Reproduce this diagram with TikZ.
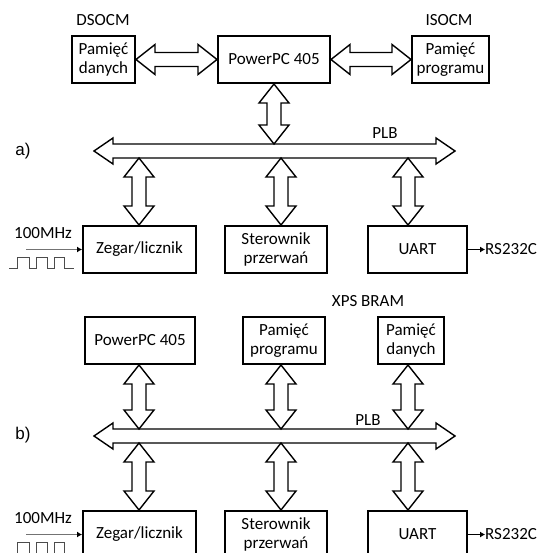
\documentclass[tikz,border=0pt]{standalone}
\usepackage{fontspec}
\setmainfont{Carlito}
\newfontfamily\arialfont{Liberation Sans}
\usetikzlibrary{calc,positioning,arrows.meta}

% podwojna strzalka blokowa (pozioma / pionowa), opcja: polowa szerokosci grotu
\newcommand\dwustrzalkaH[3][15]{%
  \draw[blokstrz] (#2) -- ++(19,-#1) -- ++(0,{#1-7}) -- ($(#3)+(-19,-7)$) -- ++(0,{7-#1}) -- (#3)
    -- ++(-19,#1) -- ++(0,{7-#1}) -- ($(#2)+(19,7)$) -- ++(0,{#1-7}) -- cycle;}
\newcommand\dwustrzalkaV[3][15]{%
  \draw[blokstrz] (#2) -- ++(#1,19) -- ++({7-#1},0) -- ($(#3)+(7,-19)$) -- ++({#1-7},0) -- (#3)
    -- ++(-#1,-19) -- ++({#1-7},0) -- ($(#2)+(-7,19)$) -- ++({7-#1},0) -- cycle;}
% przebieg zegarowy
\newcommand\przebieg[1]{%
  \draw[zegarek] (#1) -- ++(8,0) -- ++(0,-11) -- ++(12,0) -- ++(0,11) -- ++(7,0) -- ++(0,-11)
    -- ++(11,0) -- ++(0,11) -- ++(7,0) -- ++(0,-11) -- ++(10,0) -- ++(0,11) -- ++(10,0);}

\tikzset{
  blok/.style={draw, line width=2pt, align=center, minimum height=47pt, inner sep=0pt},
  blokstrz/.style={draw, line width=1.4pt, fill=white, line join=miter, miter limit=10},
  opis/.style={inner sep=0pt},
  zegarek/.style={draw=black!70, line width=1pt},
  wejscie/.style={draw=black!55, line width=1pt, -{Latex[length=5pt,width=6pt,color=black]}},
  wyjscie/.style={line width=0.8pt, -{Latex[length=5pt,width=6pt]}},
}

\begin{document}
\begin{tikzpicture}[x=1pt,y=-1pt,every node/.style={font=\fontsize{17}{19}\selectfont}]
\path[use as bounding box, clip] (0,0) rectangle (539,553);

% kolumny szyny
\coordinate (k1) at (139,0);
\coordinate (k2) at (281,0);
\coordinate (k3) at (408,0);

% ---- a) ----
\node[opis] (etA) at (23,151) {\arialfont a)};
\node[blok, minimum width=63pt] (danA) at (103.5,59.5) {Pamięć\\danych};
\node[blok, minimum width=112pt] (ppcA) at (274,59.5) {PowerPC 405};
\node[blok, minimum width=77pt] (progA) at (450.5,59.5) {Pamięć\\programu};
\node[opis] (dsocm) at (103,20) {DSOCM};
\node[opis] (isocm) at (449,20) {ISOCM};
\dwustrzalkaH{danA.east}{ppcA.west}
\dwustrzalkaH{ppcA.east}{progA.west}

\coordinate (plbAl) at (94,151);
\coordinate (plbAr) at (455,151);
\coordinate (plbAg) at (274,144);
\coordinate (plbAd) at (274,158);
\dwustrzalkaH[13]{plbAl}{plbAr}
\node[opis] (plbA) at (385,133) {PLB};
\dwustrzalkaV{ppcA.south}{ppcA.south |- plbAg}

\node[blok, minimum width=113pt] (zegA) at (139.5,249.5) {Zegar/licznik};
\node[blok, minimum width=102pt] (sterA) at (276,249.5) {Sterownik\\przerwań};
\node[blok, minimum width=99pt] (uartA) at (417.5,249.5) {UART};
\dwustrzalkaV{k1 |- plbAd}{k1 |- zegA.north}
\dwustrzalkaV{k2 |- plbAd}{k2 |- sterA.north}
\dwustrzalkaV{k3 |- plbAd}{k3 |- uartA.north}

\coordinate[left=56pt of zegA.west] (zegAwe);
\node[opis] (mhzA) at (43,233) {100MHz};
\draw[wejscie] (zegAwe) -- (zegA.west);
\przebieg{$(zegAwe)+(-17,19)$}
\node[opis, right=17pt of uartA] (rsA) {RS232C};
\draw[wyjscie] (uartA) -- (rsA);

% ---- b) ----
\node[opis] (etB) at (23,435) {\arialfont b)};
\node[blok, minimum width=110pt] (ppcB) at (140,340.5) {PowerPC 405};
\node[blok, minimum width=82pt] (progB) at (284,340.5) {Pamięć\\programu};
\node[blok, minimum width=66pt] (danB) at (411,340.5) {Pamięć\\danych};
\node[opis] (xps) at (368,301) {XPS BRAM};

\coordinate (plbBl) at (94,436);
\coordinate (plbBr) at (455,436);
\coordinate (plbBg) at (274,429);
\coordinate (plbBd) at (274,443);
\dwustrzalkaH[13]{plbBl}{plbBr}
\node[opis] (plbB) at (368,420) {PLB};
\dwustrzalkaV{k1 |- ppcB.south}{k1 |- plbBg}
\dwustrzalkaV{k2 |- progB.south}{k2 |- plbBg}
\dwustrzalkaV{k3 |- danB.south}{k3 |- plbBg}

\node[blok, minimum width=113pt] (zegB) at (139.5,534.5) {Zegar/licznik};
\node[blok, minimum width=102pt] (sterB) at (276,534.5) {Sterownik\\przerwań};
\node[blok, minimum width=99pt] (uartB) at (417.5,534.5) {UART};
\dwustrzalkaV{k1 |- plbBd}{k1 |- zegB.north}
\dwustrzalkaV{k2 |- plbBd}{k2 |- sterB.north}
\dwustrzalkaV{k3 |- plbBd}{k3 |- uartB.north}

\coordinate[left=56pt of zegB.west] (zegBwe);
\node[opis] (mhzB) at (43,518) {100MHz};
\draw[wejscie] (zegBwe) -- (zegB.west);
\przebieg{$(zegBwe)+(-17,19)$}
\node[opis, right=17pt of uartB] (rsB) {RS232C};
\draw[wyjscie] (uartB) -- (rsB);
\end{tikzpicture}
\end{document}
